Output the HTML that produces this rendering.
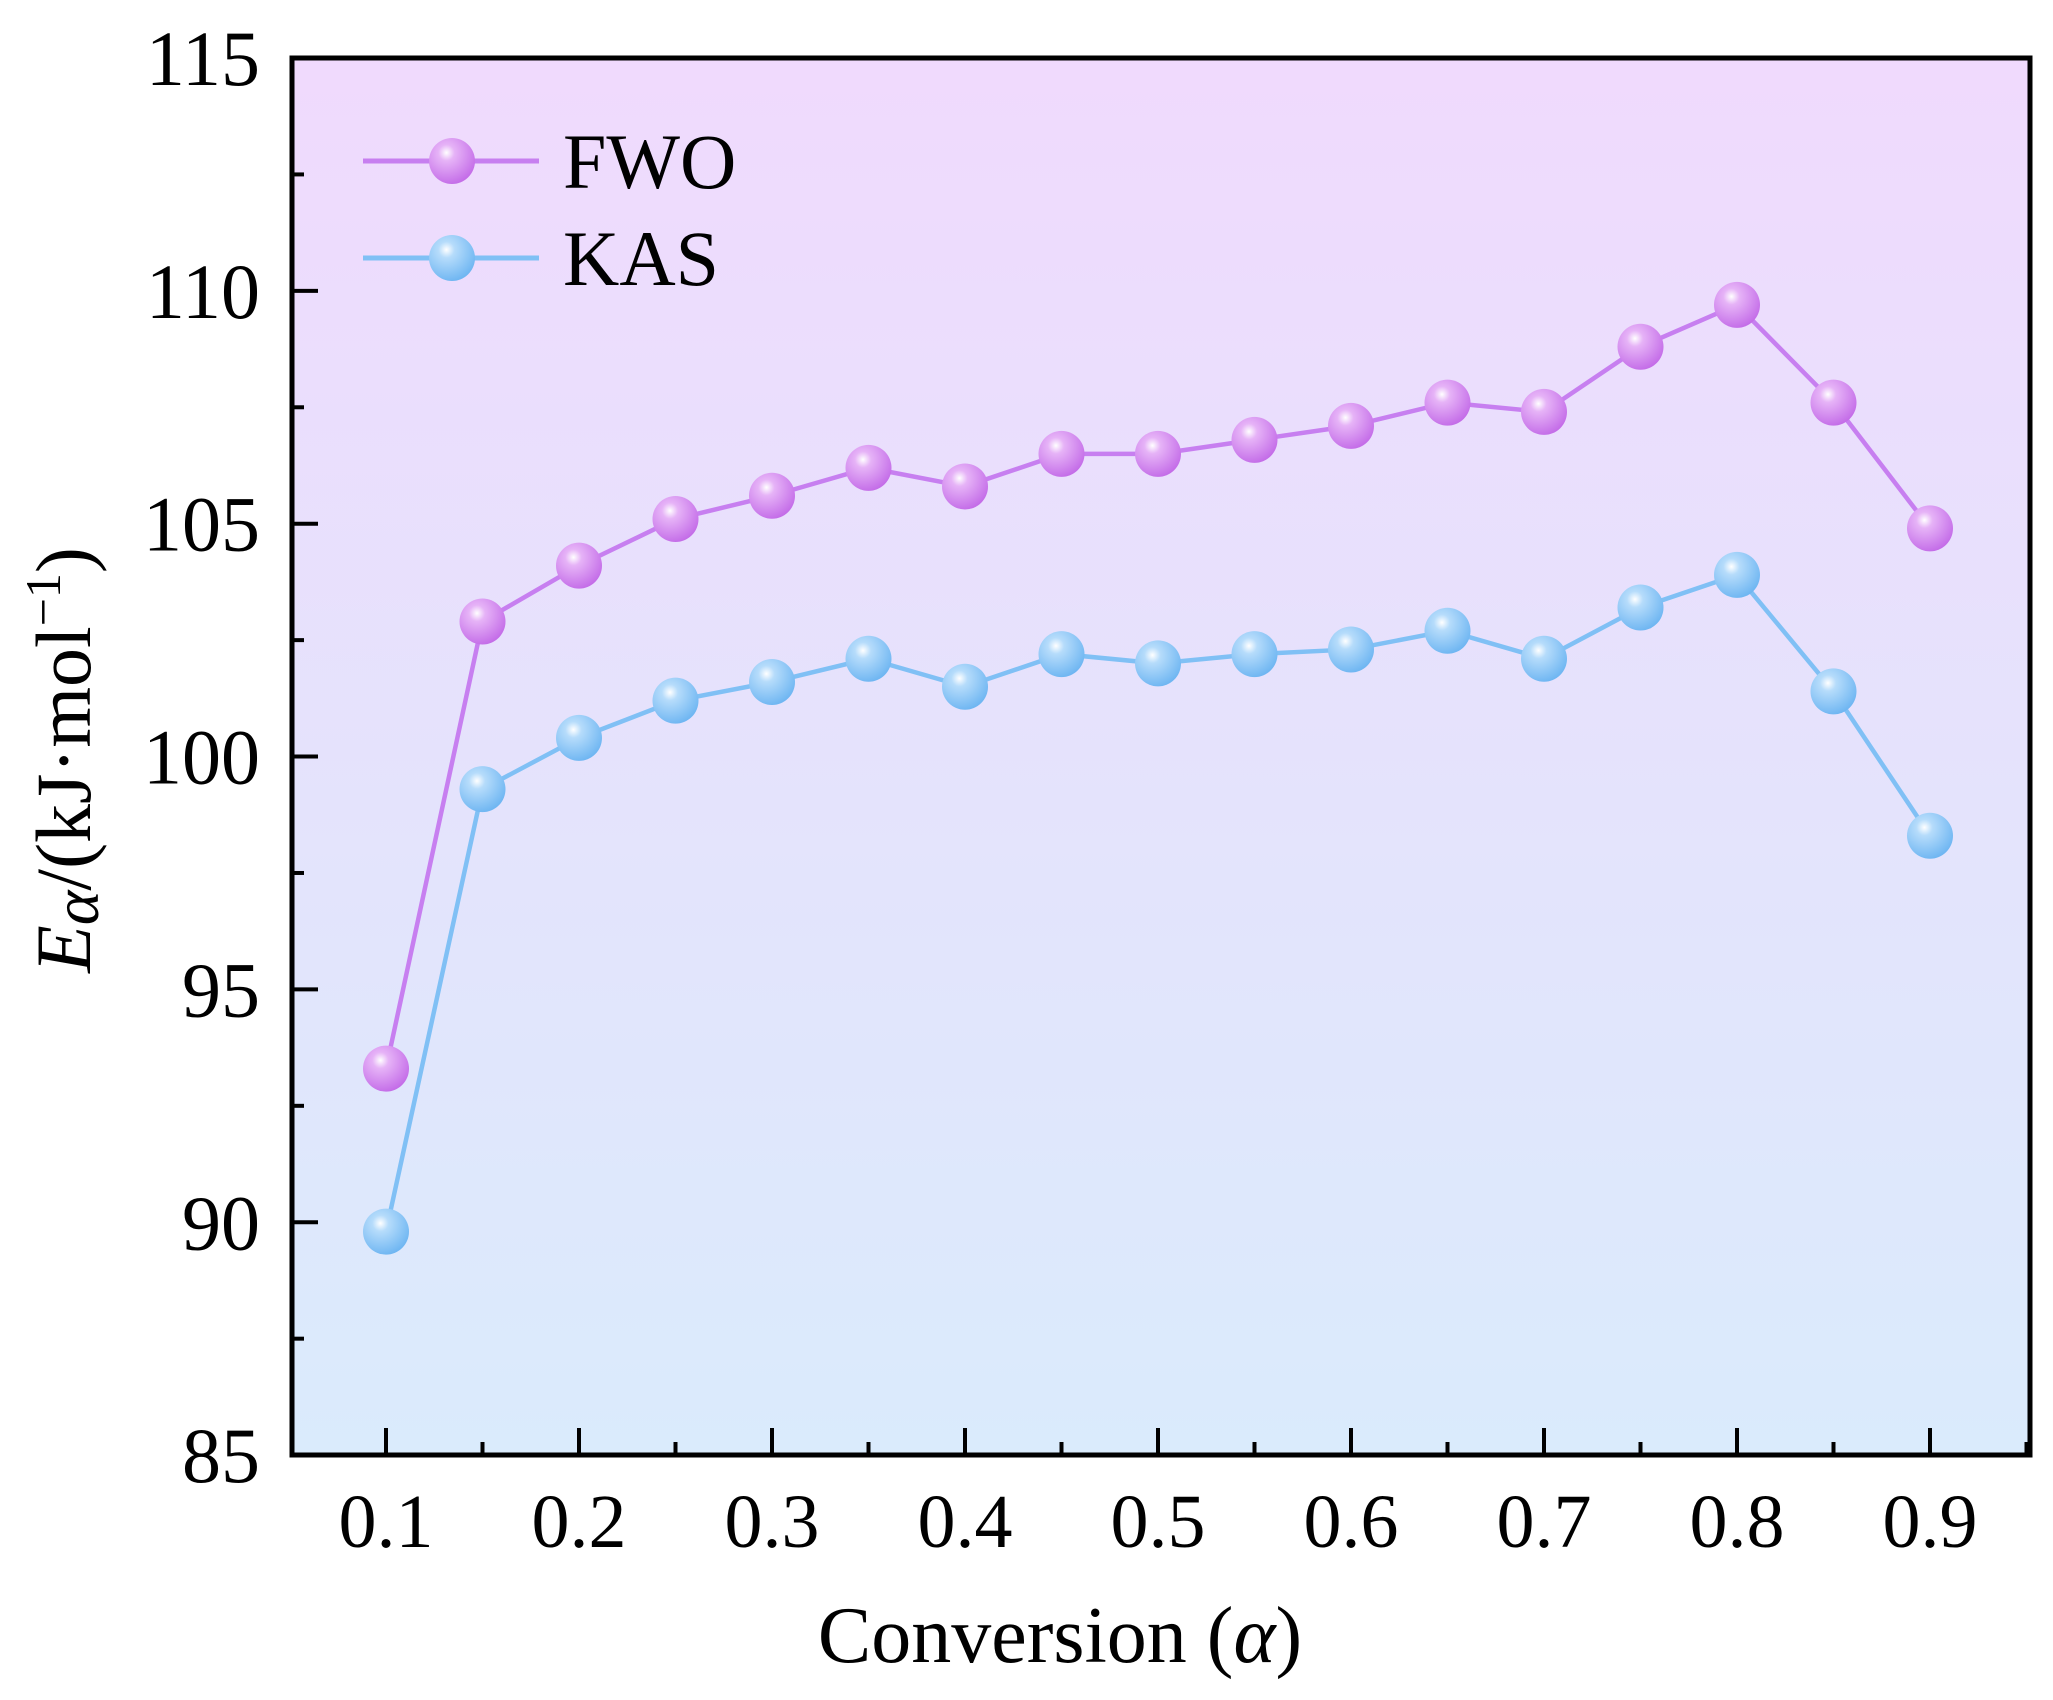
<!DOCTYPE html>
<html><head><meta charset="utf-8"><style>body{margin:0;background:#fff}svg{display:block}</style></head>
<body>
<svg width="2053" height="1700" viewBox="0 0 2053 1700" xmlns="http://www.w3.org/2000/svg" font-family="Liberation Serif, serif">
<defs>
<linearGradient id="bg" x1="0" y1="0" x2="0" y2="1"><stop offset="0" stop-color="#f0dafd"/><stop offset="1" stop-color="#daebfc"/></linearGradient>
<radialGradient id="gp" cx="0.38" cy="0.32" r="0.7"><stop offset="0" stop-color="#ffffff"/><stop offset="0.25" stop-color="#e6b3f7"/><stop offset="1" stop-color="#c46de8"/></radialGradient>
<radialGradient id="gb" cx="0.38" cy="0.32" r="0.7"><stop offset="0" stop-color="#ffffff"/><stop offset="0.25" stop-color="#b6dcfb"/><stop offset="1" stop-color="#6fb6f2"/></radialGradient>
</defs>
<rect x="292" y="58" width="1738" height="1397" fill="url(#bg)"/>
<g id="ticks" stroke="#000" stroke-width="4"></g>
<g id="series"></g>
<rect x="292" y="58" width="1738" height="1397" fill="none" stroke="#000" stroke-width="5"/>
<g font-size="78" text-anchor="end" id="yl"></g>
<g font-size="76" text-anchor="middle" id="xl"></g>
<text x="1060" y="1662" font-size="80" text-anchor="middle">Conversion (<tspan font-style="italic">α</tspan>)</text>
<text transform="translate(90,760) rotate(-90)" font-size="78" text-anchor="middle"><tspan font-style="italic">E</tspan><tspan font-style="italic" font-size="66" dy="8">α</tspan><tspan dy="-8">/(kJ·mol</tspan><tspan font-size="50" dy="-30">−1</tspan><tspan dy="30">)</tspan></text>
<line x1="363" y1="161" x2="539" y2="161" stroke="#c77ff0" stroke-width="5"/>
<circle cx="452" cy="161" r="23" fill="url(#gp)"/>
<text x="563" y="188" font-size="78">FWO</text>
<line x1="363" y1="258" x2="539" y2="258" stroke="#80c0f5" stroke-width="5"/>
<circle cx="452" cy="258" r="23" fill="url(#gb)"/>
<text x="563" y="285" font-size="78">KAS</text>
</svg>
<script>
const NS="http://www.w3.org/2000/svg";
const px=a=>386+(a-0.1)*1930, py=v=>58+(115-v)*46.57;
function el(t,a,p){const e=document.createElementNS(NS,t);for(const k in a)e.setAttribute(k,a[k]);p.appendChild(e);return e;}
const tk=document.getElementById('ticks');
for(let i=0;i<=17;i++){const a=0.1+i*0.05,x=px(a),L=i%2?13:27;el('line',{x1:x,y1:1455,x2:x,y2:1455-L},tk);}
for(let v=85;v<=115;v+=2.5){const y=py(v),L=(v%5===0)?26:12;el('line',{x1:292,y1:y,x2:292+L,y2:y},tk);}
const yl=document.getElementById('yl');
for(let v=85;v<=115;v+=5){const t=el('text',{x:260,y:py(v)+27},yl);t.textContent=v;}
const xl=document.getElementById('xl');
for(let i=1;i<=9;i++){const t=el('text',{x:px(i/10),y:1547},xl);t.textContent='0.'+i;}
const F=[93.3,102.9,104.1,105.1,105.6,106.2,105.8,106.5,106.5,106.8,107.1,107.6,107.4,108.8,109.7,107.6,104.9];
const K=[89.8,99.3,100.4,101.2,101.6,102.1,101.5,102.2,102.0,102.2,102.3,102.7,102.1,103.2,103.9,101.4,98.3];
const s=document.getElementById('series');
[[F,'#c77ff0','gp'],[K,'#80c0f5','gb']].forEach(([d,c,g])=>{
 el('polyline',{points:d.map((v,i)=>px(0.1+i*0.05)+','+py(v)).join(' '),fill:'none',stroke:c,'stroke-width':4.5},s);
 d.forEach((v,i)=>el('circle',{cx:px(0.1+i*0.05),cy:py(v),r:23,fill:'url(#'+g+')'},s));
});
</script>
</body></html>
